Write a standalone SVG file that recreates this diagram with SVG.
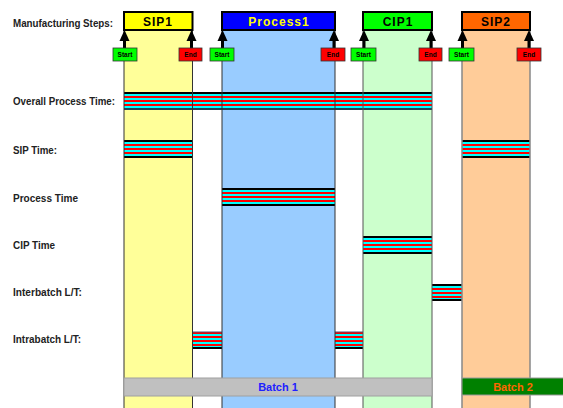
<svg xmlns="http://www.w3.org/2000/svg" width="563" height="408" viewBox="0 0 563 408">
<defs>
<pattern id="stripe" patternUnits="userSpaceOnUse" width="4" height="4">
<rect x="0" y="0" width="4" height="2" fill="#ff0000"/>
<rect x="0" y="2" width="4" height="2" fill="#00ffff"/>
</pattern>
<path id="head" d="M0,0 L5,11 L-5,11 Z" fill="#000"/>
</defs>
<style>
.lbl{font-family:"Liberation Sans",Arial,sans-serif;font-weight:bold;font-size:10.5px;fill:#222}
.hdr{font-family:"Liberation Sans",Arial,sans-serif;font-weight:bold;font-size:12px;text-anchor:middle;letter-spacing:1px}
.tag{font-family:"Liberation Sans",Arial,sans-serif;font-weight:bold;font-size:6.5px;text-anchor:middle;fill:#000}
.start{fill:#00ff00;stroke:#333;stroke-width:0.8}
.end{fill:#ff0000;stroke:#333;stroke-width:0.8}
.hbox{stroke:#000;stroke-width:2}
.bar{fill:url(#stripe)}
.barline{stroke:#000;stroke-width:2}
.shaft{stroke:#000;stroke-width:3;fill:none}
.batch{font-family:"Liberation Sans",Arial,sans-serif;font-weight:bold;font-size:11px;text-anchor:middle}
</style>
<rect width="563" height="408" fill="#fff"/>

<!-- left labels -->
<g id="labels">
<text class="lbl" x="13" y="27" textLength="100" lengthAdjust="spacingAndGlyphs">Manufacturing Steps:</text>
<text class="lbl" x="13" y="105" textLength="102" lengthAdjust="spacingAndGlyphs">Overall Process Time:</text>
<text class="lbl" x="13" y="154" textLength="44" lengthAdjust="spacingAndGlyphs">SIP Time:</text>
<text class="lbl" x="13" y="202" textLength="65" lengthAdjust="spacingAndGlyphs">Process Time</text>
<text class="lbl" x="13" y="249" textLength="42" lengthAdjust="spacingAndGlyphs">CIP Time</text>
<text class="lbl" x="13" y="296" textLength="69" lengthAdjust="spacingAndGlyphs">Interbatch L/T:</text>
<text class="lbl" x="13" y="343" textLength="68" lengthAdjust="spacingAndGlyphs">Intrabatch L/T:</text>
</g>

<!-- column bodies -->
<g id="sip1-col"><rect x="124" y="30" width="68.5" height="380" fill="#ffff99"/></g>
<g id="process1-col"><rect x="222" y="30" width="113" height="380" fill="#99ccff"/></g>
<g id="cip1-col"><rect x="363" y="30" width="69" height="380" fill="#ccffcc"/></g>
<g id="sip2-col"><rect x="462" y="30" width="68" height="380" fill="#ffcc99"/></g>

<!-- time bars -->
<g id="bars">
<g id="overall-bar"><rect class="bar" x="124" y="92" width="308" height="18"/><line class="barline" x1="124" y1="93" x2="432" y2="93"/><line class="barline" x1="124" y1="109" x2="432" y2="109" style="stroke:#245"/></g>
<g id="sip1-bar"><rect class="bar" x="124" y="140" width="68.5" height="18"/><line class="barline" x1="124" y1="141" x2="192.5" y2="141"/><line class="barline" x1="124" y1="157" x2="192.5" y2="157"/></g>
<g id="sip2-bar"><rect class="bar" x="462" y="140" width="68" height="18"/><line class="barline" x1="462" y1="141" x2="530" y2="141"/><line class="barline" x1="462" y1="157" x2="530" y2="157"/></g>
<g id="process-bar"><rect class="bar" x="222" y="188" width="113" height="18"/><line class="barline" x1="222" y1="189" x2="335" y2="189"/><line class="barline" x1="222" y1="205" x2="335" y2="205"/></g>
<g id="cip-bar"><rect class="bar" x="363" y="236" width="69" height="18"/><line class="barline" x1="363" y1="237" x2="432" y2="237"/><line class="barline" x1="363" y1="253" x2="432" y2="253"/></g>
<g id="interbatch-bar"><rect class="bar" x="432" y="284" width="30" height="17"/><line class="barline" x1="432" y1="285" x2="462" y2="285"/><line class="barline" x1="432" y1="300" x2="462" y2="300"/></g>
<g id="intrabatch-bar1"><rect class="bar" x="192.5" y="332" width="29.5" height="17"/><line class="barline" x1="192.5" y1="332" x2="222" y2="332" style="stroke:#557;stroke-width:1"/><line class="barline" x1="192.5" y1="348" x2="222" y2="348"/></g>
<g id="intrabatch-bar2"><rect class="bar" x="335" y="332" width="28" height="17"/><line class="barline" x1="335" y1="332" x2="363" y2="332" style="stroke:#557;stroke-width:1"/><line class="barline" x1="335" y1="348" x2="363" y2="348"/></g>
</g>

<!-- column outlines and headers -->
<g id="sip1">
<rect x="124" y="30" width="68.5" height="380" fill="none" stroke="#333" stroke-width="1"/>
<rect class="hbox" x="124" y="12" width="68.5" height="18" fill="#ffff00"/>
<text class="hdr" x="158" y="26" fill="#000">SIP1</text>
</g>
<g id="process1">
<rect x="222" y="30" width="113" height="380" fill="none" stroke="#333" stroke-width="1"/>
<rect class="hbox" x="222" y="12" width="113" height="18" fill="#0000ff"/>
<text class="hdr" x="279" y="26" fill="#ffff00">Process1</text>
</g>
<g id="cip1">
<rect x="363" y="30" width="69" height="380" fill="none" stroke="#555" stroke-width="1"/>
<rect class="hbox" x="363" y="12" width="69" height="18" fill="#00ff00"/>
<text class="hdr" x="398" y="26" fill="#000">CIP1</text>
</g>
<g id="sip2">
<rect x="462" y="30" width="68" height="380" fill="none" stroke="#888" stroke-width="1.5"/>
<rect class="hbox" x="462" y="12" width="68" height="18" fill="#ff6600"/>
<text class="hdr" x="496" y="26" fill="#000">SIP2</text>
</g>

<!-- connectors -->
<g id="connectors">
<line class="shaft" x1="124.5" y1="48" x2="124.5" y2="38"/><use href="#head" x="124.5" y="30"/>
<line class="shaft" x1="191.5" y1="48" x2="191.5" y2="38"/><use href="#head" x="191.5" y="30"/>
<line class="shaft" x1="222.5" y1="48" x2="222.5" y2="38"/><use href="#head" x="222.5" y="30"/>
<line class="shaft" x1="334" y1="48" x2="334" y2="38"/><use href="#head" x="334" y="30"/>
<line class="shaft" x1="364" y1="48" x2="364" y2="38"/><use href="#head" x="364" y="30"/>
<line class="shaft" x1="431" y1="48" x2="431" y2="38"/><use href="#head" x="431" y="30"/>
<line class="shaft" x1="462.5" y1="48" x2="462.5" y2="38"/><use href="#head" x="462.5" y="30"/>
<line class="shaft" x1="529" y1="48" x2="529" y2="38"/><use href="#head" x="529" y="30"/>
</g>

<!-- start/end tags -->
<g id="sip1-start"><rect class="start" x="113" y="48" width="24" height="13"/><text class="tag" x="125" y="57">Start</text></g>
<g id="sip1-end"><rect class="end" x="179" y="48" width="23" height="13"/><text class="tag" x="190.5" y="57">End</text></g>
<g id="process1-start"><rect class="start" x="210" y="48" width="24" height="13"/><text class="tag" x="222" y="57">Start</text></g>
<g id="process1-end"><rect class="end" x="321" y="48" width="24" height="13"/><text class="tag" x="333" y="57">End</text></g>
<g id="cip1-start"><rect class="start" x="351" y="48" width="25" height="13"/><text class="tag" x="363.5" y="57">Start</text></g>
<g id="cip1-end"><rect class="end" x="419" y="48" width="23" height="13"/><text class="tag" x="430.5" y="57">End</text></g>
<g id="sip2-start"><rect class="start" x="449" y="48" width="25" height="13"/><text class="tag" x="461.5" y="57">Start</text></g>
<g id="sip2-end"><rect class="end" x="517" y="48" width="24" height="13"/><text class="tag" x="529" y="57">End</text></g>

<!-- batches -->
<g id="batch1">
<rect x="124" y="378" width="308" height="18" fill="#c0c0c0" stroke="#a0a0a0" stroke-width="1"/>
<text class="batch" x="278" y="391" fill="#2020ff">Batch 1</text>
</g>
<g id="batch2">
<rect x="462" y="378" width="103" height="17" fill="#008000" stroke="#999" stroke-width="1"/>
<text class="batch" x="513" y="391" fill="#ff6600">Batch 2</text>
</g>
</svg>
